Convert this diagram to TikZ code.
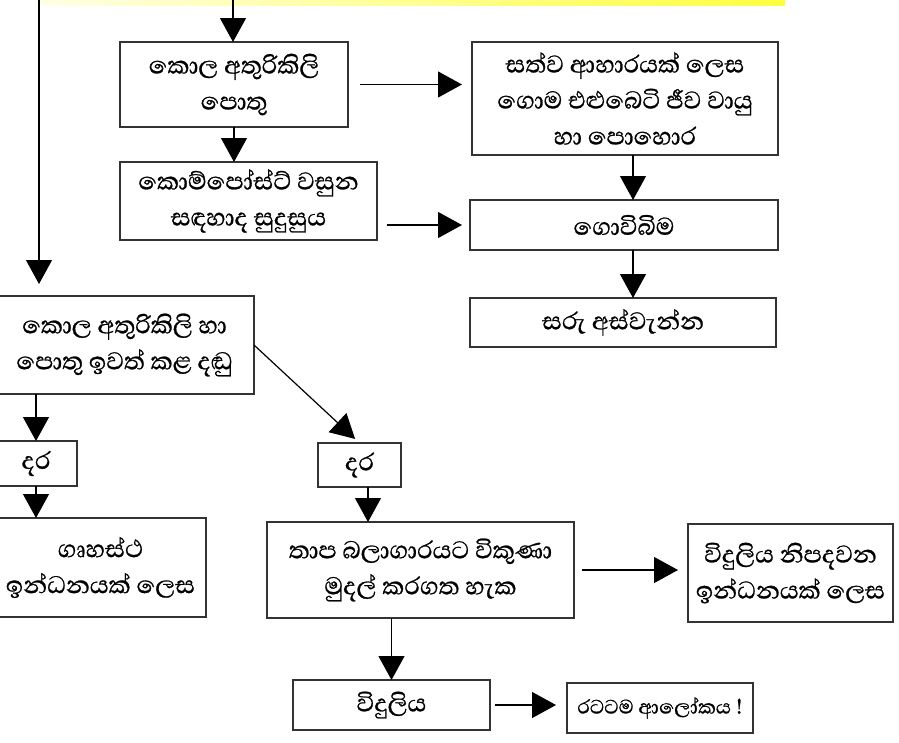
\documentclass[tikz,border=0pt]{standalone}
\usepackage{fontspec}
\newfontfamily\sinhala[Script=Sinhala,FakeBold=0.8]{Abhaya Libre}
\usepackage{tikz}
\usetikzlibrary{positioning}
\usetikzlibrary{arrows.meta}

\begin{document}
\begin{tikzpicture}[x=1pt,y=-1pt,
        box/.style={draw=black!80,line width=1.3pt,inner sep=0pt,outer sep=0pt,align=center,
            font=\sinhala\fontsize{31}{36}\selectfont},
        arr/.style={line width=1.2pt,-{Triangle[width=26pt,length=24pt]}}]
                \useasboundingbox (0,0) rectangle (899,742);
                \shade[left color=yellow!10,right color=yellow!75] (40,0) rectangle (785,5);
                % upper chain
                \node[box,minimum width=228pt,minimum height=85pt] (leaves) at (234,84.5)
                    {කොල අතුරිකිලි\\පොතු};
                \node[box,minimum width=306pt,minimum height=113pt] (feed) at (625,98.5)
                    {සත්ව ආහාරයක් ලෙස\\ගොම එළුබෙටි ජීව වායු\\හා පොහොර};
                \node[box,minimum width=257pt,minimum height=78pt] (compost) at (248.5,201)
                    {කොම්පෝස්ට් වසුන\\සඳහාද සුදුසුය};
                \node[box,minimum width=308pt,minimum height=50pt] (farm) at (624,225) {ගොවිබිම};
                \node[box,minimum width=306pt,minimum height=49pt] (harvest) at (623,322.5) {සරු අස්වැන්න};
                % lower chain
                \node[box,minimum width=259pt,minimum height=98pt] (stems) at (124.5,345)
                    {කොල අතුරිකිලි හා\\පොතු ඉවත් කළ දඬු};
                \node[box,minimum width=82pt,minimum height=45pt] (wood1) at (36,463.5) {දර};
                \node[box,minimum width=211pt,minimum height=99pt] (home) at (100.5,567.5)
                    {ගෘහස්ථ\\ඉන්ධනයක් ලෙස};
                \node[box,minimum width=83pt,minimum height=44pt] (wood2) at (359.5,465) {දර};
                \node[box,minimum width=307pt,minimum height=96pt] (plant) at (420.5,570)
                    {තාප බලාගාරයට විකුණා\\මුදල් කරගත හැක};
                \node[box,minimum width=205pt,minimum height=98pt] (fuel) at (790.5,573)
                    {විදුලිය නිපදවන\\ඉන්ධනයක් ලෙස};
                \node[box,minimum width=197pt,minimum height=50pt] (power) at (391.5,705) {විදුලිය};
                \node[box,minimum width=186pt,minimum height=50pt,font=\sinhala\fontsize{25}{30}\selectfont]
                    (light) at (660,708) {රටටම ආලෝකය !};
                % connectors
                \coordinate (topA) at (233,0);
                \coordinate (topF) at (39,0);
                \draw[arr] (topA) -- (topA |- leaves.north);
                \draw[arr,shorten >=12pt] (topF) -- (topF |- stems.north);
                \draw[arr,shorten <=12pt,shorten >=10pt] (leaves.east) -- (leaves.east -| feed.west);
                \draw[arr] (leaves.south) -- (leaves.south |- compost.north);
                \draw[arr,shorten <=10pt,shorten >=8pt] (farm.west -| compost.east) -- (farm.west);
                \draw[arr] (feed.south -| 633,0) -- (farm.north -| 633,0);
                \draw[arr] (farm.south -| 633,0) -- (harvest.north -| 633,0);
                \draw[arr] (wood1.north |- stems.south) -- (wood1.north);
                \draw[arr] (wood1.south) -- (wood1.south |- home.north);
                \draw[arr,shorten >=6pt] (stems.east) -- (wood2.north);
                \draw[arr] (wood2.south -| 368,0) -- (plant.north -| 368,0);
                \draw[arr,shorten <=8pt,shorten >=10pt] (plant.east) -- (plant.east -| fuel.west);
                \draw[arr] (power.north |- plant.south) -- (power.north);
                \draw[arr,shorten <=5pt,shorten >=11pt] (power.east) -- (power.east -| light.west);
\end{tikzpicture}
\end{document}
